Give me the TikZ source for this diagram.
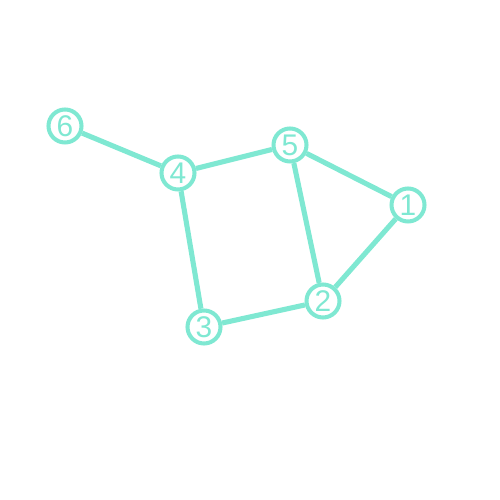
\documentclass[tikz,border=0pt]{standalone}
\usepackage{fontspec}
\setmainfont{Liberation Sans}
\usepackage{tikz}
\definecolor{aqua}{HTML}{7FE8D2}
\tikzset{vert/.style={circle,draw=aqua,fill=white,line width=2.3pt,text=aqua,inner sep=0pt,minimum size=0.66cm,font=\fontsize{17}{17}\selectfont},
  edge/.style={draw=aqua,line width=2.9pt}}
\begin{document}
\begin{tikzpicture}
        \useasboundingbox (0,0) rectangle (10,10);
        \node[vert] (N6) at (1.30,7.48) {6};
        \node[vert] (N4) at (3.56,6.54) {4};
        \node[vert] (N5) at (5.80,7.10) {5};
        \node[vert] (N1) at (8.16,5.90) {1};
        \node[vert] (N2) at (6.46,3.98) {2};
        \node[vert] (N3) at (4.08,3.46) {3};
        \draw[edge] (N6)--(N4);
        \draw[edge] (N4)--(N5);
        \draw[edge] (N5)--(N1);
        \draw[edge] (N1)--(N2);
        \draw[edge] (N5)--(N2);
        \draw[edge] (N2)--(N3);
        \draw[edge] (N4)--(N3);
    \end{tikzpicture}
\end{document}
